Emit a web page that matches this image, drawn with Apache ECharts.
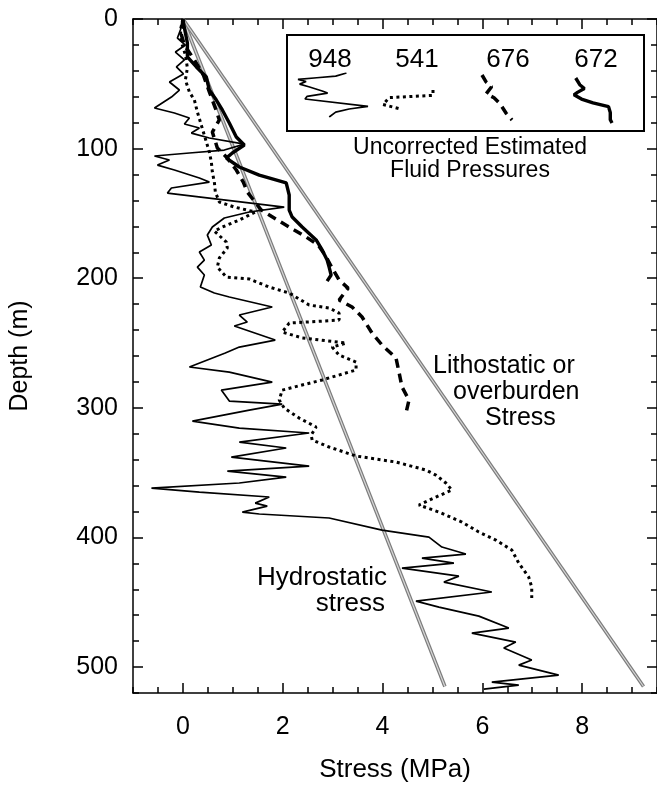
<!DOCTYPE html>
<html>
<head>
<meta charset="utf-8">
<script src="https://cdn.jsdelivr.net/npm/echarts@6/dist/echarts.min.js"></script>
<style>
  html, body { margin: 0; padding: 0; background: #fff; }
  #chart { width: 657px; height: 788px; }
</style>
</head>
<body>
<div id="chart"></div>
<script>
// each point: [stress (MPa), depth (m)]
var well948 = [
  [0,0],[-0.05,8.5],[-0.11,14.7],[0.05,20.1],[-0.15,25.5],[0.03,31.6],[-0.13,37],[0.01,42.4],
  [-0.27,48.6],[-0.07,54.8],[-0.23,60.2],[-0.57,68.7],[-0.17,72.5],[0.13,76.4],[0.03,81],[0.33,84.1],
  [0.17,88],[0.53,91.8],[1.23,96.5],[0.83,101.1],[0.13,103.4],[-0.57,105.7],[-0.27,108.8],[-0.51,112.7],
  [-0.17,116.5],[0.33,122.7],[0.53,125.8],[-0.23,130.4],[-0.31,134.3],[2.03,145.1],[1.33,148.9],[0.83,153.5],
  [0.59,160.5],[0.49,166.7],[0.57,174.4],[0.33,179.8],[0.43,186],[0.29,191.4],[0.43,197.5],[0.35,206.8],
  [0.63,211.4],[0.93,214.5],[1.79,222.2],[1.13,228.4],[1.29,233.8],[1.03,236.9],[1.85,247.7],[1.13,253.1],
  [0.85,257.7],[0.13,268.5],[0.93,272.4],[1.79,280.1],[0.77,286.3],[0.93,294.8],[1.99,297.1],[1.33,301.7],
  [0.19,310.2],[1.13,315.6],[2.53,319.4],[1.13,326.4],[2.07,331],[0.97,338],[2.53,344.9],[0.89,348.8],
  [2.07,353.4],[1.13,358],[-0.63,361.9],[0.33,365],[1.73,368.8],[1.45,373.5],[1.69,375.8],[1.19,380.4],
  [1.53,381.9],[2.93,385],[3.99,394.3],[4.93,399.7],[5.19,407.4],[5.67,412.8],[4.79,415.9],[5.43,419.8],
  [4.39,423.6],[5.53,429.8],[5.23,434.4],[6.19,442.1],[4.67,449.1],[5.13,453.7],[5.93,460.7],[6.53,469.9],
  [5.79,473.8],[6.67,480.7],[6.43,485.3],[6.99,494.6],[6.73,498.5],[7.53,506.2],[6.19,511.6],[6.73,513.9],
  [6.03,517]
];
var well541 = [
  [0,0],[-0.05,8.5],[-0.03,17.7],[0.05,27.8],[0.09,37.8],[0.05,47.1],[0.13,56.3],[0.23,62.5],
  [0.29,71.8],[0.35,79.5],[0.41,87.2],[0.47,94.9],[0.53,102.6],[0.57,110.3],[0.59,118.1],[0.63,125.8],
  [0.65,133.5],[0.73,141.2],[1.03,145.1],[1.45,148.9],[1.13,155.1],[0.79,160.5],[0.63,163.6],[0.87,172.1],
  [0.89,176.7],[0.73,184.4],[0.69,191.4],[0.87,199.1],[1.33,200.6],[1.73,206.8],[2.13,211.4],[2.53,220.7],
  [2.93,223],[3.13,226.9],[3.13,232.3],[2.13,234.6],[1.99,241.5],[2.39,246.1],[3.27,250],[2.99,253.1],
  [3.13,259.3],[3.47,264.7],[3.47,270.8],[2.79,278.5],[1.99,286.3],[1.93,294],[2.03,300.2],[2.33,307.9],
  [2.67,314.8],[2.57,321],[2.59,324.8],[2.93,330.2],[3.47,337.2],[4.27,341.8],[4.87,348],[5.07,351.9],
  [5.27,358],[5.39,363.4],[5.07,368.8],[4.73,375],[5.13,380.4],[5.59,388.1],[5.93,395.8],[6.27,402],
  [6.59,409.7],[6.73,419.8],[6.93,430.6],[6.99,438.3],[6.99,446.8]
];
var well676 = [
  [0,0],[-0.03,12.3],[0.03,20.1],[0.23,31.6],[0.41,43.2],[0.53,56.3],[0.65,68.7],[0.73,77.9],
  [0.59,87.2],[0.69,99.5],[0.89,107.3],[1.07,116.5],[1.21,125.8],[1.29,133.5],[1.57,147.4],[1.93,155.9],
  [2.23,162.8],[2.47,168.2],[2.71,174.4],[2.85,182.1],[2.99,192.1],[3.13,201.4],[3.31,207.6],[3.13,216.8],
  [3.39,222.2],[3.59,229.9],[3.79,242.3],[3.99,251.5],[4.27,261.6],[4.33,272.4],[4.39,283.9],[4.53,294],
  [4.47,304]
];
var well672 = [
  [0,0],[0.03,6.9],[0.09,18.5],[0.09,29.3],[0.27,37],[0.47,44.8],[0.53,54.8],[0.67,62.5],
  [0.79,70.2],[0.93,80.2],[1.07,91],[1.23,97.2],[0.99,103.4],[0.87,107.3],[1.13,114.2],[1.53,120.4],
  [2.07,126.5],[2.13,135.8],[2.13,147.4],[2.19,152.8],[2.39,160.5],[2.67,170.5],[2.79,178.2],[2.89,186],
  [2.93,191.4],[2.97,197.5],[2.89,202.2]
];
var lithostatic = [[0,0],[9.23,515]];
var hydrostatic = [[0,0],[5.25,515]];

var xLabels = [0, 2, 4, 6, 8];
var yLabels = [0, 100, 200, 300, 400, 500];
var wellNames = ['948', '541', '676', '672'];

var FONT = "'Liberation Sans', Arial, Helvetica, sans-serif";

function depthSlice(arr, d0, d1) {
  return arr.filter(function (p) { return p[1] >= d0 && p[1] <= d1; });
}
// the key shows a short piece of each curve
var keyPieces = [
  depthSlice(well948, 95, 161),
  depthSlice(well541, 226, 247),
  depthSlice(well676, 190, 252),
  depthSlice(well672, 79, 155)
];
var keyBoxes = [
  { left: 298, top: 73, width: 70, height: 44 },
  { left: 383, top: 90, width: 50, height: 19 },
  { left: 482, top: 75, width: 30, height: 45 },
  { left: 574, top: 78, width: 38, height: 45 }
];
var wellStyles = [
  { color: '#000', width: 1.7, type: 'solid' },
  { color: '#000', width: 3, type: [3, 3.5] },
  { color: '#000', width: 3.5, type: [9, 6] },
  { color: '#000', width: 3.4, type: 'solid' }
];
var wells = [well948, well541, well676, well672];

var chart = echarts.init(document.getElementById('chart'));

function xAx(pos, major, main) {
  return {
    type: 'value', position: pos, min: -1, max: 9.5, gridIndex: 0,
    interval: major ? undefined : 0.5,
    axisLine: { show: !!major, onZero: false, lineStyle: { color: '#000', width: 1.5 } },
    axisTick: major ? { inside: true, length: 10, customValues: xLabels, lineStyle: { color: '#000', width: 1.5 } }
                    : { inside: true, length: 6, lineStyle: { color: '#000', width: 1.5 } },
    axisLabel: main ? { customValues: xLabels, margin: 22, fontSize: 25, color: '#000', fontFamily: FONT } : { show: false },
    splitLine: { show: false },
    name: main ? 'Stress (MPa)' : '', nameLocation: 'middle', nameGap: 64,
    nameTextStyle: { fontSize: 26, color: '#000', fontFamily: FONT }
  };
}
function yAx(pos, major, main) {
  return {
    type: 'value', position: pos, min: 0, max: 520, inverse: true, gridIndex: 0,
    interval: major ? undefined : 20,
    axisLine: { show: !!major, onZero: false, lineStyle: { color: '#000', width: 1.5 } },
    axisTick: major ? { inside: true, length: 10, customValues: yLabels, lineStyle: { color: '#000', width: 1.5 } }
                    : { inside: true, length: 6, lineStyle: { color: '#000', width: 1.5 } },
    axisLabel: main ? { customValues: yLabels, margin: 15, fontSize: 25, color: '#000', fontFamily: FONT } : { show: false },
    splitLine: { show: false },
    name: main ? 'Depth (m)' : '', nameLocation: 'middle', nameGap: 100, nameRotate: 90,
    nameTextStyle: { fontSize: 25, color: '#000', fontFamily: FONT }
  };
}

var grids = [{ left: 133, top: 19, width: 525, height: 674 }];
var xAxes = [xAx('bottom', true, true), xAx('bottom', false), xAx('top', true), xAx('top', false)];
var yAxes = [yAx('left', true, true), yAx('left', false), yAx('right', true), yAx('right', false)];

var series = [];
[hydrostatic, lithostatic].forEach(function (ref) {
  series.push({ type: 'line', data: ref, symbol: 'none', z: 1, silent: true,
    lineStyle: { color: '#7c7c7c', width: 3.6 } });
  series.push({ type: 'line', data: ref, symbol: 'none', z: 1, silent: true,
    lineStyle: { color: '#d8d8d8', width: 1.2 } });
});
wells.forEach(function (w, i) {
  series.push({ name: wellNames[i], type: 'line', data: w, symbol: 'none', z: 3,
    lineStyle: wellStyles[i] });
});
keyPieces.forEach(function (piece, i) {
  grids.push(keyBoxes[i]);
  xAxes.push({ type: 'value', gridIndex: i + 1, min: 'dataMin', max: 'dataMax', show: false });
  yAxes.push({ type: 'value', gridIndex: i + 1, min: 'dataMin', max: 'dataMax', inverse: true, show: false });
  series.push({ type: 'line', data: piece, symbol: 'none', xAxisIndex: i + 4, yAxisIndex: i + 4,
    lineStyle: wellStyles[i], z: 3 });
});

function txt(x, y, s, size, align) {
  return { type: 'text', x: x, y: y, style: { text: s, fill: '#000', fontSize: size,
    fontFamily: FONT, align: align || 'left', verticalAlign: 'middle' } };
}

var option = {
  animation: false,
  backgroundColor: '#fff',
  grid: grids,
  xAxis: xAxes,
  yAxis: yAxes,
  series: series,
  graphic: [
    { type: 'rect', shape: { x: 287, y: 35, width: 357, height: 96 },
      style: { fill: null, stroke: '#000', lineWidth: 2 } },
    txt(330, 60, wellNames[0], 26, 'center'),
    txt(417, 60, wellNames[1], 26, 'center'),
    txt(508, 60, wellNames[2], 26, 'center'),
    txt(596, 60, wellNames[3], 26, 'center'),
    txt(470, 148, 'Uncorrected Estimated', 23, 'center'),
    txt(470, 171, 'Fluid Pressures', 23, 'center'),
    txt(433, 366, 'Lithostatic or', 25),
    txt(453, 392, 'overburden', 25),
    txt(485, 418, 'Stress', 25),
    txt(257, 578, 'Hydrostatic', 26),
    txt(385, 604, 'stress', 26, 'right')
  ]
};
chart.setOption(option);
window.addEventListener('resize', function () { chart.resize(); });
</script>
</body>
</html>
